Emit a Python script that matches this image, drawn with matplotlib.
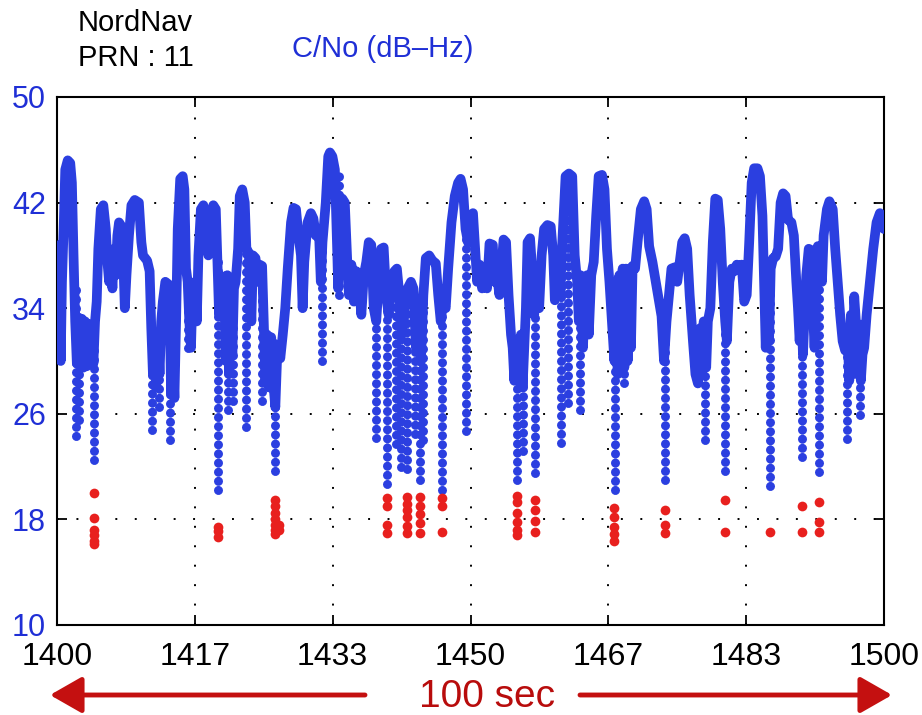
import matplotlib
matplotlib.use("Agg")
import matplotlib.pyplot as plt
from matplotlib.patches import FancyArrowPatch
import numpy as np

plt.rcParams['font.family'] = ['Liberation Sans', 'DejaVu Sans']

# ---------------- data ----------------
# main C/No trace, (time s, C/No dB-Hz) knots per segment
trace_a = [(1400.0, 38.5), (1400.15, 30.5), (1400.3, 38.8), (1400.45, 30.0), (1400.6, 36.0),
           (1400.8, 40.0), (1401.0, 44.5), (1401.3, 45.2), (1401.6, 45.0), (1401.8, 43.5),
           (1402.0, 38.0), (1402.2, 33.0), (1402.4, 29.8), (1402.6, 33.3), (1402.8, 30.0),
           (1403.0, 33.2), (1403.2, 29.5), (1403.4, 33.0), (1403.6, 29.6), (1403.8, 32.8),
           (1404.0, 30.0), (1404.2, 32.5), (1404.4, 29.8), (1404.6, 33.0), (1404.8, 34.5),
           (1405.0, 38.5), (1405.3, 41.5), (1405.6, 41.8), (1405.9, 40.0), (1406.1, 37.5),
           (1406.3, 36.0), (1406.5, 38.0), (1406.7, 35.5), (1406.9, 38.5), (1407.1, 36.5),
           (1407.3, 39.5), (1407.5, 40.5), (1407.8, 40.2), (1408.0, 38.0), (1408.2, 34.0),
           (1408.4, 36.5), (1408.7, 39.5), (1409.0, 41.8), (1409.4, 42.2), (1409.9, 42.0),
           (1410.2, 39.0), (1410.4, 38.0), (1410.9, 37.6), (1411.2, 36.8), (1411.4, 32.5),
           (1411.6, 29.0), (1411.8, 31.5), (1412.0, 28.0), (1412.2, 32.0), (1412.4, 29.0),
           (1412.6, 33.0), (1412.8, 34.5), (1413.1, 36.0), (1413.5, 35.8), (1413.7, 31.0),
           (1413.8, 27.5), (1414.0, 30.5), (1414.2, 27.2), (1414.4, 33.0), (1414.6, 40.0),
           (1414.9, 43.8), (1415.2, 44.0), (1415.4, 43.0), (1415.6, 37.0), (1415.8, 36.0),
           (1416.0, 33.0), (1416.2, 31.0), (1416.4, 35.5), (1416.7, 36.0)]
trace_b = [(1416.9, 33.0), (1417.1, 38.0), (1417.4, 41.5), (1417.7, 41.8), (1418.0, 40.5),
           (1418.3, 38.0), (1418.6, 40.5), (1418.9, 41.8), (1419.2, 41.5), (1419.4, 37.5),
           (1419.6, 33.5), (1419.9, 35.0), (1420.2, 36.4), (1420.4, 30.0), (1420.6, 36.5),
           (1420.8, 29.0), (1421.0, 36.0), (1421.2, 30.5), (1421.4, 35.5), (1421.6, 36.0),
           (1421.9, 38.5), (1422.1, 42.5), (1422.4, 43.0), (1422.7, 42.0), (1422.9, 38.5),
           (1423.2, 38.2), (1423.5, 33.0), (1423.7, 38.0), (1424.0, 37.8), (1424.3, 36.0),
           (1424.5, 37.3), (1424.8, 37.2), (1425.0, 33.0), (1425.2, 28.5), (1425.4, 32.0),
           (1425.6, 28.0), (1425.9, 31.8), (1426.2, 28.0), (1426.4, 26.5), (1426.6, 30.0),
           (1426.8, 31.0), (1427.0, 30.2), (1427.3, 32.0), (1427.6, 34.0), (1427.9, 37.0),
           (1428.3, 40.5), (1428.6, 41.6), (1428.9, 41.5), (1429.2, 39.5), (1429.5, 38.0),
           (1429.7, 34.0), (1429.9, 37.5), (1430.3, 40.5), (1430.7, 41.2), (1431.0, 40.8),
           (1431.3, 39.5), (1431.7, 39.4), (1431.9, 36.0), (1432.1, 39.0), (1432.5, 42.0),
           (1432.8, 45.5), (1433.0, 45.8), (1433.3, 45.5)]
trace_c = [(1433.6, 44.5), (1433.9, 38.0), (1434.0, 35.5), (1434.2, 40.0), (1434.5, 42.3),
           (1434.8, 42.0), (1435.1, 37.5), (1435.3, 35.0), (1435.6, 37.3), (1435.9, 34.5),
           (1436.2, 36.8), (1436.5, 36.0), (1436.8, 33.5), (1437.1, 36.5), (1437.4, 37.5),
           (1437.7, 39.0), (1438.0, 38.8), (1438.3, 34.0), (1438.6, 33.0), (1438.9, 36.0),
           (1439.2, 38.5), (1439.5, 38.6), (1439.8, 35.0), (1440.1, 33.5), (1440.4, 35.5),
           (1440.8, 36.8), (1441.1, 37.0), (1441.4, 35.0), (1441.7, 32.0), (1442.0, 34.0),
           (1442.4, 35.5), (1442.8, 36.0), (1443.1, 35.5), (1443.4, 31.0), (1443.7, 33.0),
           (1444.0, 30.0), (1444.3, 35.0), (1444.6, 37.8), (1445.0, 38.0), (1445.4, 37.6),
           (1445.8, 37.4), (1446.1, 35.0), (1446.4, 33.0), (1446.7, 34.5), (1447.0, 34.0),
           (1447.3, 37.0), (1447.7, 40.5), (1448.1, 42.5), (1448.5, 43.5), (1448.8, 43.8),
           (1449.1, 43.0), (1449.4, 40.0), (1449.7, 39.0), (1450.0, 41.0), (1450.3, 41.2)]
trace_d = [(1450.6, 38.0), (1450.8, 36.0), (1451.1, 37.3), (1451.4, 35.5), (1451.7, 36.8),
           (1452.0, 35.5), (1452.3, 38.9), (1452.7, 38.8), (1452.9, 36.0), (1453.2, 36.5),
           (1453.5, 35.0), (1453.8, 37.5), (1454.0, 39.2), (1454.3, 39.0), (1454.6, 35.0),
           (1454.9, 32.0), (1455.1, 31.0), (1455.3, 28.5), (1455.5, 31.5), (1455.8, 28.5),
           (1456.1, 32.0), (1456.3, 28.0), (1456.5, 31.0), (1456.7, 34.0), (1456.9, 39.0),
           (1457.2, 39.3), (1457.5, 36.5), (1457.7, 33.5), (1458.0, 36.0), (1458.3, 34.0),
           (1458.6, 38.0), (1458.9, 40.0), (1459.3, 40.3), (1459.7, 40.2), (1460.0, 38.0),
           (1460.2, 34.6), (1460.5, 37.0), (1460.8, 35.0), (1461.1, 39.0), (1461.5, 44.0),
           (1461.9, 44.2), (1462.3, 44.0), (1462.6, 38.0), (1462.9, 36.0), (1463.1, 33.0),
           (1463.3, 36.5), (1463.6, 31.0), (1463.9, 36.0), (1464.1, 36.5), (1464.3, 32.0),
           (1464.6, 36.5), (1464.9, 37.5), (1465.2, 41.0), (1465.5, 44.0), (1465.9, 44.1),
           (1466.2, 43.0), (1466.5, 38.5), (1466.8, 36.0), (1467.1, 33.0)]
trace_e = [(1467.4, 30.0), (1467.6, 36.0), (1467.8, 29.0), (1468.0, 36.5), (1468.2, 30.5),
           (1468.4, 37.0), (1468.6, 29.5), (1468.8, 37.0), (1469.0, 30.0), (1469.2, 37.0),
           (1469.4, 31.0), (1469.6, 37.2), (1469.9, 37.0), (1470.2, 39.0), (1470.6, 41.5),
           (1471.0, 42.1), (1471.3, 41.5), (1471.6, 38.7), (1472.0, 37.5), (1472.4, 36.0),
           (1472.8, 34.5), (1473.1, 33.4), (1473.4, 30.0), (1473.7, 33.0), (1474.0, 35.0),
           (1474.3, 37.0), (1474.7, 37.1), (1475.0, 36.0), (1475.3, 37.5), (1475.6, 39.0),
           (1475.9, 39.3), (1476.2, 38.5), (1476.5, 35.0), (1476.9, 31.5), (1477.2, 29.0),
           (1477.5, 28.3), (1477.8, 32.5), (1478.0, 29.0), (1478.2, 33.0), (1478.5, 29.5),
           (1478.7, 33.0), (1479.0, 34.0), (1479.3, 39.0), (1479.6, 42.3), (1479.9, 42.2),
           (1480.2, 40.0), (1480.5, 36.0), (1480.8, 33.0), (1481.0, 31.5), (1481.3, 36.0),
           (1481.6, 37.0), (1481.9, 36.8), (1482.2, 37.3), (1482.5, 37.2), (1482.8, 37.3),
           (1483.1, 34.5), (1483.4, 35.0), (1483.7, 39.0), (1484.0, 43.5), (1484.3, 44.6),
           (1484.7, 44.6), (1485.0, 44.0)]
trace_f = [(1485.3, 41.0), (1485.5, 36.0), (1485.7, 31.0), (1485.9, 36.0), (1486.1, 31.5),
           (1486.3, 37.0), (1486.6, 37.8), (1486.9, 37.9), (1487.2, 38.5), (1487.5, 42.0),
           (1487.8, 42.7), (1488.1, 42.5), (1488.4, 40.7), (1488.8, 40.5), (1489.1, 39.5),
           (1489.4, 36.0), (1489.6, 34.0), (1489.8, 31.5), (1490.0, 34.5), (1490.2, 30.5),
           (1490.4, 33.5), (1490.6, 36.5), (1490.9, 38.5), (1491.2, 38.4), (1491.4, 34.0),
           (1491.6, 31.0), (1491.8, 35.0), (1492.0, 38.7), (1492.3, 38.5), (1492.5, 36.0),
           (1492.7, 39.5), (1493.1, 41.5), (1493.4, 42.1), (1493.8, 41.5), (1494.1, 38.5),
           (1494.4, 36.0), (1494.7, 33.5), (1495.0, 31.5), (1495.3, 30.8), (1495.6, 32.0),
           (1495.8, 28.5), (1496.0, 33.5), (1496.2, 29.0), (1496.4, 34.9), (1496.6, 33.0),
           (1496.8, 29.0), (1497.0, 31.0), (1497.2, 28.5), (1497.4, 30.5), (1497.6, 31.0),
           (1497.9, 33.5), (1498.3, 36.0), (1498.7, 38.5), (1499.1, 40.5), (1499.5, 41.2),
           (1499.8, 41.0), (1500.0, 40.0)]

# deep fades: time, level where fade starts, lowest blue sample
fade_t   = [1402.3, 1402.7, 1404.5, 1411.5, 1412.3, 1413.7, 1415.9, 1419.5, 1420.7, 1421.3,
            1422.9, 1424.8, 1426.4, 1432.0, 1434.1, 1438.6, 1439.85, 1441.0, 1441.6, 1442.3,
            1443.3, 1443.9, 1444.3, 1446.5, 1449.5, 1455.6, 1456.3, 1457.8, 1461.0, 1461.8,
            1463.2, 1467.5, 1468.6, 1473.5, 1478.4, 1480.8, 1486.2, 1490.05, 1492.1, 1495.5,
            1497.1]
fade_top = [36.0, 33.0, 31.0, 32.0, 32.0, 35.0, 36.0, 37.5, 36.0, 35.5,
            38.5, 37.0, 32.0, 39.0, 44.0, 33.5, 35.0, 36.0, 34.0, 35.0,
            35.0, 33.0, 35.0, 34.0, 41.0, 31.0, 31.0, 36.0, 38.0, 44.0,
            36.0, 33.0, 36.0, 33.0, 32.0, 36.0, 37.0, 35.0, 38.0, 31.0,
            33.0]
fade_bot = [24.3, 25.5, 22.5, 24.8, 26.5, 24.0, 31.0, 20.2, 26.3, 27.0,
            25.0, 27.0, 21.7, 30.0, 35.0, 24.2, 20.7, 23.7, 22.0, 21.8,
            24.5, 21.0, 24.0, 20.2, 24.7, 21.0, 23.2, 21.5, 23.8, 26.8,
            26.3, 20.2, 28.3, 21.0, 24.0, 21.7, 20.5, 22.7, 21.6, 24.1,
            25.9]

# samples below the tracking threshold (red)
low_t = [1404.5] * 6 + [1419.5] * 3 + [1426.4] * 7 + [1426.8] * 2 + [1439.85] * 4 \
    + [1442.3] * 6 + [1443.9] * 5 + [1446.5] * 3 + [1455.6] * 6 + [1457.8] * 4 \
    + [1467.4] * 5 + [1473.5] * 3 + [1480.8] * 2 + [1486.2] + [1490.05] * 2 + [1492.1] * 3
low_y = [20.0, 18.1, 17.2, 16.8, 16.4, 16.1,
         17.4, 17.1, 16.7,
         19.5, 19.0, 18.5, 18.0, 17.6, 17.2, 16.9,
         17.6, 17.2,
         19.6, 19.0, 17.6, 16.95,
         19.7, 19.2, 18.7, 18.2, 17.5, 17.0,
         19.7, 19.0, 18.4, 17.7, 17.0,
         19.6, 19.0, 17.05,
         19.8, 19.3, 18.5, 17.8, 17.2, 16.8,
         19.5, 18.7, 17.9, 17.05,
         18.9, 18.2, 17.4, 16.9, 16.4,
         18.7, 17.6, 17.0,
         19.5, 17.05,
         17.05,
         19.0, 17.05,
         19.3, 17.8, 17.05]

xtick_labels = ['1400', '1417', '1433', '1450', '1467', '1483', '1500']
ytick_vals = [10, 18, 26, 34, 42, 50]

# ---------------- drawing ----------------
BLUE = '#2b3fe0'
TXT_BLUE = '#1f2fd6'
RED = '#e8201e'
DARK_RED = '#b80c0c'

trace = trace_a + trace_b + trace_c + trace_d + trace_e + trace_f
tt = [p[0] for p in trace]
yy = [p[1] for p in trace]
assert len(fade_t) == len(fade_top) == len(fade_bot)
assert len(low_t) == len(low_y)

fig = plt.figure(figsize=(9.22, 7.15), dpi=100)
ax = fig.add_axes([57 / 922, 1 - 625 / 715, 827 / 922, 528 / 715])

ax.set_xlim(1400, 1500)
ax.set_ylim(10, 50)
ax.set_xticks(np.linspace(1400, 1500, 7))
ax.set_xticklabels(xtick_labels)
ax.set_yticks(ytick_vals)
ax.set_yticklabels([str(v) for v in ytick_vals])

ax.grid(True, color='black', linestyle=(0, (1, 9)), linewidth=1.4)
ax.set_axisbelow(True)

# fades as columns of dots
vl = ax.vlines(fade_t, fade_bot, fade_top, colors=BLUE, linewidth=6.5,
               linestyles=(0, (0.01, 1.0)), zorder=3)
vl.set_capstyle('round')

ax.plot(tt, yy, color=BLUE, lw=7, solid_joinstyle='round',
        solid_capstyle='round', zorder=4)
ax.plot(low_t, low_y, 'o', color=RED, ms=7, mec='none', zorder=5)

for s in ax.spines.values():
    s.set_linewidth(1.5)
ax.tick_params(direction='in', length=7, width=1.3, top=True, right=True)
ax.tick_params(axis='x', labelsize=23, pad=12, colors='black')
ax.tick_params(axis='y', labelsize=22, pad=8)
for lab in ax.get_yticklabels():
    lab.set_color(TXT_BLUE)

fig.text(78 / 922, 1 - 9 / 715, 'NordNav\nPRN : 11', ha='left', va='top',
         fontsize=21, color='black', linespacing=1.3)
fig.text(383 / 922, 1 - 49 / 715, 'C/No (dB–Hz)', ha='center', va='center',
         fontsize=21, color=TXT_BLUE)

fig.text(487 / 922, 1 - 697 / 715, '100 sec', ha='center', va='center',
         fontsize=28, color=DARK_RED)
ya = 1 - 695 / 715
for x0, x1 in [(365 / 922, 50 / 922), (580 / 922, 892 / 922)]:
    fig.add_artist(FancyArrowPatch((x0, ya), (x1, ya), transform=fig.transFigure,
                                   arrowstyle='-|>,head_length=1.4,head_width=0.8',
                                   mutation_scale=14, lw=3.5, color='#c41010',
                                   shrinkA=0, shrinkB=0))

fig.savefig('out.png', dpi=100)
